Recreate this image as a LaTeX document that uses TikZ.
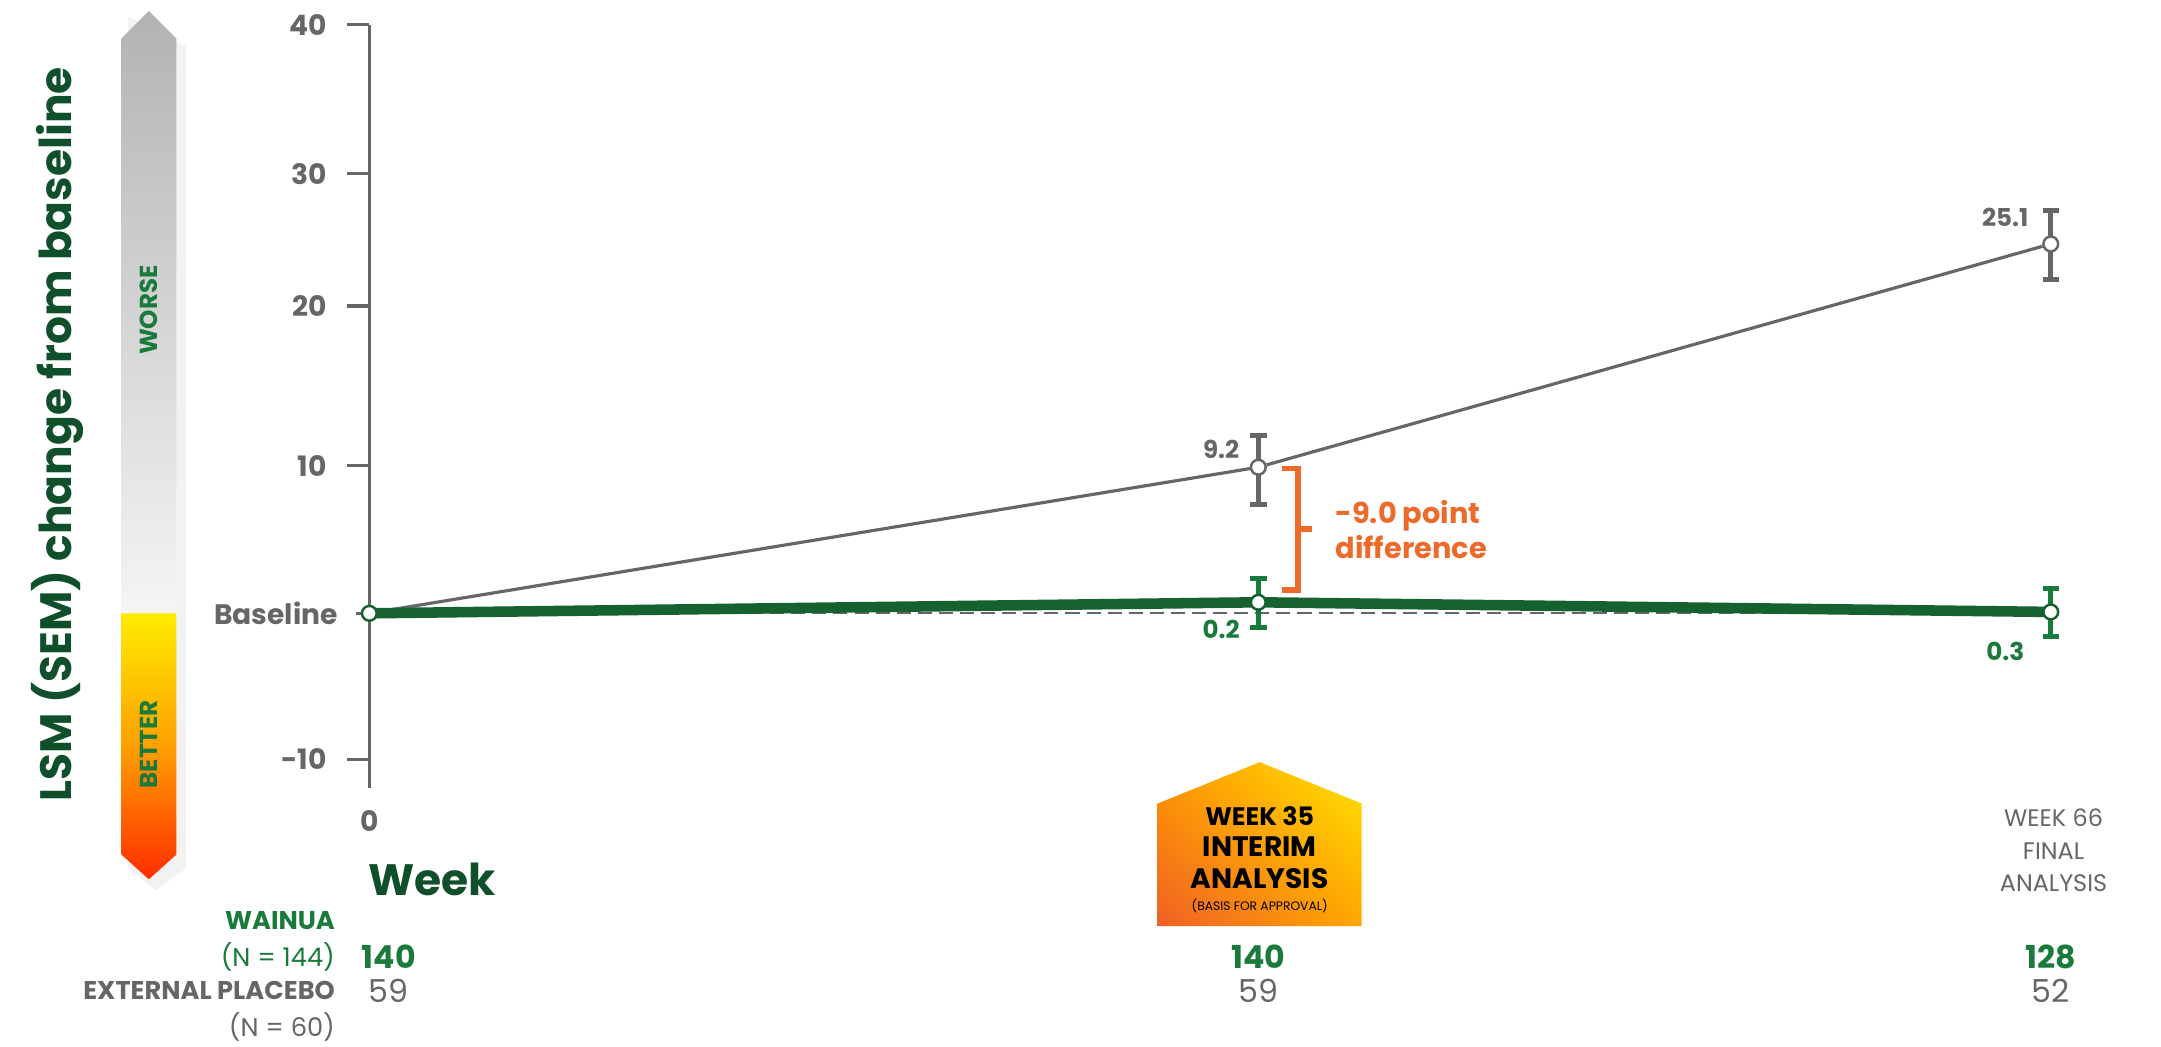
\documentclass[tikz,border=0pt]{standalone}
\usepackage{fontspec}
\setmainfont{Poppins}
\usetikzlibrary{shadings}
\definecolor{grn}{HTML}{1A7A3C}
\definecolor{dgrn}{HTML}{0F4F2A}
\definecolor{gry}{HTML}{666666}
\definecolor{org}{HTML}{EE6A2A}
\begin{document}
\begin{tikzpicture}[x=0.01378cm,y=-0.01378cm,
  tick/.style={font=\fontsize{8}{9}\selectfont\bfseries, text=gry, anchor=east},
  gl/.style={gry, line width=0.9pt},
  eb/.style={line width=1.4pt},
  pt/.style={circle, draw, fill=white, inner sep=0pt, minimum size=4.2pt, line width=0.7pt},
  val/.style={font=\fontsize{7}{8}\selectfont\bfseries},
  cnt/.style={font=\fontsize{9}{10}\selectfont},
  lab/.style={font=\fontsize{7.3}{8}\selectfont, align=right, anchor=east}]
\useasboundingbox (0,0) rectangle (1568,759);
% left arrow bar
\fill[black!5] (93,12) -- (135,34) -- (135,630) -- (113,646) -- (93,630) -- cycle;
\shade[top color=black!30, bottom color=black!4] (88,28) -- (108,8) -- (128,28) -- (128,445) -- (88,445) -- cycle;
\shade[top color=yellow!85!orange, bottom color=red!65!orange, middle color=orange!75!yellow] (88,445) -- (128,445) -- (128,620) -- (108,638) -- (88,620) -- cycle;
\node[rotate=90, text=grn, font=\fontsize{7}{8}\selectfont\bfseries] (worse) at (108,225) {WORSE};
\node[rotate=90, text=grn, font=\fontsize{7}{8}\selectfont\bfseries] (better) at (108,540) {BETTER};
\node[rotate=90, text=dgrn, font=\fontsize{12.5}{14}\selectfont\bfseries] (ylab) at (42,315) {LSM (SEM) change from baseline};
% axis
\coordinate (ytop) at (268,18); \coordinate (ybot) at (268,572);
\draw[gl] (ytop) -- (ybot);
\foreach \yy/\tt in {18/40,126/30,222/20,338/10,551/-10}{
  \draw[gl] (252,\yy) -- (268,\yy);
  \node[tick] at (246,\yy) {\tt};}
\draw[gl] (258,445) -- (268,445);
\node[tick] (bl) at (254,445) {Baseline};
% baseline dashed
\coordinate (d0) at (268,445); \coordinate (d1) at (1488,445);
\draw[gry, line width=0.5pt, dash pattern=on 4pt off 2pt] (d0) -- (d1);
% placebo
\coordinate (p0) at (268,445);
\draw[gry, eb] (913,316) -- (913,366) (907,316) -- (919,316) (907,366) -- (919,366);
\draw[gry, eb] (1488,153) -- (1488,203) (1482,153) -- (1494,153) (1482,203) -- (1494,203);
\node[pt, draw=gry] (p1) at (913,339) {};
\node[pt, draw=gry] (p2) at (1488,177) {};
\draw[gry, line width=0.9pt] (p0) -- (p1) -- (p2);
\node[val, text=gry] at (886,326) {9.2};
\node[val, text=gry] at (1455,158) {25.1};
% wainua
\draw[grn, eb] (913,420) -- (913,455) (907,420) -- (919,420) (907,455) -- (919,455);
\draw[grn, eb] (1488,427) -- (1488,462) (1482,427) -- (1494,427) (1482,462) -- (1494,462);
\coordinate (w0) at (268,445);
\coordinate (w1) at (913,437);
\coordinate (w2) at (1488,444);
\draw[grn!80!black, line width=3pt] (w0) -- (w1) -- (w2);
\node[pt, draw=grn!80!black] (wn0) at (w0) {};
\node[pt, draw=grn!80!black] (wn1) at (w1) {};
\node[pt, draw=grn!80!black] (wn2) at (w2) {};
\node[val, text=grn] at (886,457) {0.2};
\node[val, text=grn] at (1455,473) {0.3};
% bracket
\draw[org, line width=1.6pt] (930,340) -- (942,340) -- (942,428) -- (930,428) (942,384) -- (952,384);
\node[text=org, font=\fontsize{8.2}{10}\selectfont\bfseries, align=left, anchor=west] (diff) at (960,384) {-9.0 point\\difference};
% house
\shade[lower left=org!90!red, upper right=yellow!80!orange, lower right=orange!70!yellow, upper left=orange!80!yellow] (840,583) -- (914,553) -- (988,583) -- (988,672) -- (840,672) -- cycle;
\node[font=\fontsize{7.2}{9}\selectfont\bfseries, align=center] (wk35) at (914,615) {WEEK 35\\\fontsize{8}{10}\selectfont INTERIM\\\fontsize{8}{10}\selectfont ANALYSIS};
\node[font=\fontsize{3.5}{4}\selectfont] at (914,657) {(BASIS FOR APPROVAL)};
\node[text=gry, font=\fontsize{6.8}{9.3}\selectfont, align=center] (wk66) at (1490,617) {WEEK 66\\FINAL\\ANALYSIS};
\node[tick, anchor=center] (x0) at (268,596) {0};
\node[text=dgrn, font=\fontsize{12.5}{14}\selectfont\bfseries, anchor=west] (week) at (258,638) {Week};
% counts
\node[lab, text=grn] at (252,668) {\bfseries WAINUA};
\node[lab, text=grn] at (252,694) {(N = 144)};
\node[lab, text=gry] at (252,719) {\bfseries EXTERNAL PLACEBO};
\node[lab, text=gry] at (252,745) {(N = 60)};
\foreach \xx/\a/\b in {282/140/59,913/140/59,1488/128/52}{
  \node[cnt, text=grn, font=\fontsize{9}{10}\selectfont\bfseries] at (\xx,694) {\a};
  \node[cnt, text=gry] at (\xx,719) {\b};}
\end{tikzpicture}
\end{document}
